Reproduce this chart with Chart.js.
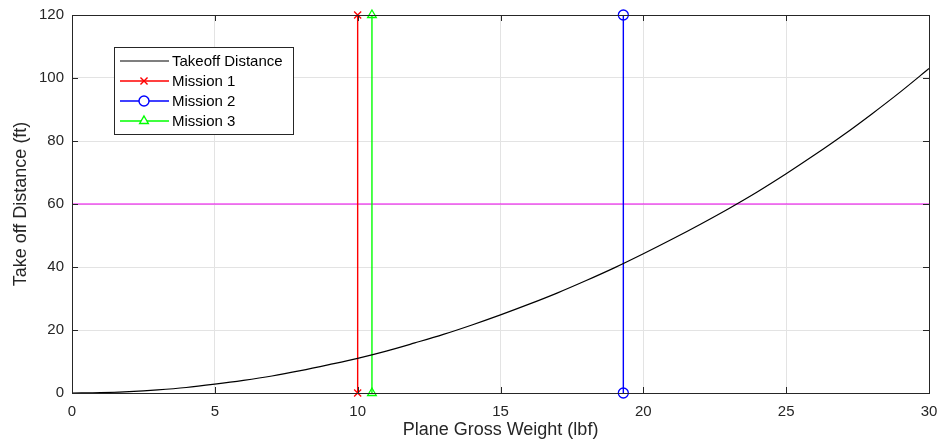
<!DOCTYPE html>
<html>
<head>
<meta charset="utf-8">
<script src="https://cdn.jsdelivr.net/npm/chart.js@4"></script>
<style>
  html, body { margin: 0; padding: 0; background: #fff; }
  #wrap { width: 937px; height: 446px; }
</style>
</head>
<body>
<div id="wrap"><canvas id="tkoChart"></canvas></div>
<script>
// data
var weights = [0, 1, 2, 3, 4, 5, 6, 7, 8, 9, 10, 11, 12, 13, 14, 15, 16, 17, 18, 19, 20, 21, 22, 23, 24, 25, 26, 27, 28, 29, 30];
var takeoffDist = [0, 0.1, 0.45, 1.0, 1.75, 2.8, 4.0, 5.4, 7.1, 9.0, 11.0, 13.3, 15.9, 18.6, 21.6, 24.8, 28.2, 31.8, 35.7, 39.8, 44.2, 48.8, 53.6, 58.6, 63.9, 69.6, 75.6, 81.9, 88.6, 95.6, 103.0];
var missionWeights = [10, 19.3, 10.5];
var missionNames = ['Mission 1', 'Mission 2', 'Mission 3'];
var missionSpan = [0, 120];
var limitDist = 60;
var xTicks = [0, 5, 10, 15, 20, 25, 30];
var yTicks = [0, 20, 40, 60, 80, 100, 120];

var font = 'Liberation Sans, Arial, Helvetica, sans-serif';
var textColor = '#262626';

var curvePts = weights.map(function (w, i) { return { x: w, y: takeoffDist[i] }; });

function missionLine(i, color, marker) {
    return {
        label: missionNames[i],
        data: missionSpan.map(function (d) { return { x: missionWeights[i], y: d }; }),
        borderColor: color,
        backgroundColor: 'rgba(0,0,0,0)',
        borderWidth: 1.4,
        pointStyle: marker,
        pointRadius: 5,
        pointBorderColor: color,
        pointBackgroundColor: 'rgba(0,0,0,0)',
        pointBorderWidth: 1.3,
        clip: false
    };
}

var datasets = [
    {
        label: 'Takeoff Distance',
        data: curvePts,
        borderColor: '#000000',
        borderWidth: 1.2,
        pointRadius: 0,
        cubicInterpolationMode: 'monotone'
    },
    missionLine(0, '#ff0000', 'crossRot'),
    missionLine(1, '#0000ff', 'circle'),
    missionLine(2, '#00ff00', 'triangle'),
    {
        label: 'limit',
        data: [{ x: 0, y: limitDist }, { x: 30, y: limitDist }],
        borderColor: '#ee00ee',
        borderWidth: 1.2,
        pointRadius: 0,
        hideInLegend: true
    }
];

// matlab style box + inward ticks + legend
var boxPlugin = {
    id: 'boxPlugin',
    afterDraw: function (chart) {
        var c = chart.ctx, a = chart.chartArea;
        var xs = chart.scales.x, ys = chart.scales.y;
        c.save();
        c.strokeStyle = '#262626';
        c.lineWidth = 1;
        c.beginPath();
        xTicks.forEach(function (t) {
            var px = Math.round(xs.getPixelForValue(t)) + 0.5;
            c.moveTo(px, a.bottom); c.lineTo(px, a.bottom - 6);
            c.moveTo(px, a.top); c.lineTo(px, a.top + 6);
        });
        yTicks.forEach(function (t) {
            var py = Math.round(ys.getPixelForValue(t)) + 0.5;
            c.moveTo(a.left, py); c.lineTo(a.left + 6, py);
            c.moveTo(a.right, py); c.lineTo(a.right - 6, py);
        });
        c.stroke();
        c.strokeRect(Math.round(a.left) + 0.5, Math.round(a.top) + 0.5,
            Math.round(a.right - a.left), Math.round(a.bottom - a.top));

        // legend
        var lx = 114, ly = 47, lw = 179, lh = 87;
        c.fillStyle = '#ffffff';
        c.fillRect(lx, ly, lw, lh);
        c.strokeRect(lx + 0.5, ly + 0.5, lw, lh);
        c.font = '15px ' + font;
        c.textBaseline = 'middle';
        chart.data.datasets.forEach(function (ds, i) {
            if (ds.hideInLegend) return;
            var yy = ly + 14 + i * 20;
            c.strokeStyle = ds.borderColor;
            c.lineWidth = ds.borderWidth;
            c.beginPath();
            c.moveTo(lx + 6, yy); c.lineTo(lx + 55, yy);
            c.stroke();
            if (ds.pointRadius) {
                c.fillStyle = '#ffffff';
                Chart.helpers.drawPoint(c, {
                    pointStyle: ds.pointStyle, radius: 5, borderWidth: 1.3
                }, lx + 30, yy);
            }
            c.fillStyle = '#000';
            c.fillText(ds.label, lx + 58, yy + 1);
        });
        c.restore();
    }
};

var ctx = document.getElementById('tkoChart').getContext('2d');
var myChart = new Chart(ctx, {
    type: 'line',
    data: { datasets: datasets },
    options: {
        responsive: true,
        maintainAspectRatio: false,
        animation: false,
        layout: { padding: { top: 15, right: 8, left: 0, bottom: 0 } },
        plugins: {
            legend: { display: false },
            tooltip: { enabled: false }
        },
        scales: {
            x: {
                type: 'linear',
                min: 0, max: 30,
                afterBuildTicks: function (s) { s.ticks = xTicks.map(function (v) { return { value: v }; }); },
                afterFit: function (s) { s.height = 53; s.paddingLeft = 0; s.paddingRight = 0; },
                grid: { color: '#e3e3e3', drawTicks: false },
                border: { display: false },
                ticks: { color: textColor, font: { family: font, size: 15 }, padding: 10, maxRotation: 0 },
                title: { display: true, text: 'Plane Gross Weight (lbf)', color: textColor, font: { family: font, size: 18 }, padding: { top: 0, bottom: 5 } }
            },
            y: {
                type: 'linear',
                min: 0, max: 120,
                afterBuildTicks: function (s) { s.ticks = yTicks.map(function (v) { return { value: v }; }); },
                afterFit: function (s) { s.width = 72; s.paddingTop = 0; s.paddingBottom = 0; },
                grid: { color: '#e3e3e3', drawTicks: false },
                border: { display: false },
                ticks: { color: textColor, font: { family: font, size: 15 }, padding: 8 },
                title: { display: true, text: 'Take off Distance (ft)', color: textColor, font: { family: font, size: 18 }, padding: { top: 10, bottom: 0 } }
            }
        }
    },
    plugins: [boxPlugin]
});
</script>
</body>
</html>
